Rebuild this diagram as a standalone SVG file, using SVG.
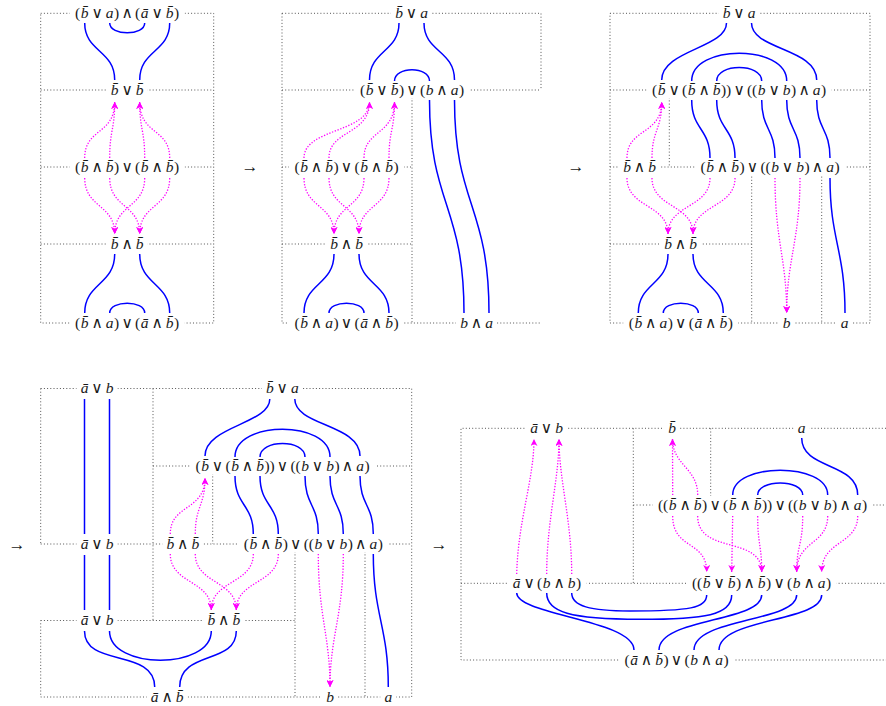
<svg xmlns="http://www.w3.org/2000/svg" width="886" height="706" viewBox="0 0 886 706">
<defs>
<style>
.fr{fill:none;stroke:#555;stroke-width:1;stroke-dasharray:1 2.2}
.bg{fill:#fff}
text{font-family:"Liberation Serif","DejaVu Serif",serif;font-size:15.5px;fill:#1a1a1a;text-anchor:middle}
.ar{font-size:17px}
.i{font-style:italic}
.bl{fill:none;stroke:#0000ff;stroke-width:1.5}
.mg{fill:none;stroke:#ff00ff;stroke-width:1.3;stroke-dasharray:1.3 1.6;marker-end:url(#ah)}
</style>
<marker id="ah" viewBox="0 0 10 10" refX="10" refY="5" markerWidth="7" markerHeight="7" orient="auto" markerUnits="userSpaceOnUse"><path d="M0,0 L10,5 L0,10 L3,5 z" fill="#ff00ff"/></marker>
</defs>
<rect width="886" height="706" fill="#fff"/>

<g id="frames">
<rect class="fr" x="40.7" y="13.3" width="173" height="309.7"/>
<path class="fr" d="M40.7,90H213.7 M40.7,167H213.7 M40.7,244H213.7"/>
<path class="fr" d="M282,13.3H541V90 M282,90H541 M282,13.3V323H541 M282,167H412 M282,244H412 M412,94V323"/>
<rect class="fr" x="610" y="13.3" width="260" height="309.7"/>
<path class="fr" d="M610,90H870 M669.3,94V167 M610,167H870 M751.7,167V323 M821.7,167V323 M610,244H751.7"/>
<path class="fr" d="M40.7,388.5H411.7V697H40.7V620.5 M40.7,388.5V544 M153,388.5V620.5 M153,466H411.7 M212.7,470V544 M40.7,544H411.7 M295,548V697 M365,548V697 M40.7,620.5H295"/>
<path class="fr" d="M886,428.3H461V660H886 M633.3,428.3V583.3 M710.7,428.3V496 M633.3,505H886 M461,583.3H886"/>
</g>

<g id="steps">
<text class="ar" x="250" y="172">→</text>
<text class="ar" x="576" y="172">→</text>
<text class="ar" x="17" y="549.5">→</text>
<text class="ar" x="439" y="549.5">→</text>
</g>

<!-- Panel 1 -->
<g id="p1-n1"><rect class="bg" x="69.7" y="4.3" width="115" height="17"/><text y="18"><tspan x="77.7">(</tspan><tspan x="84.7" class="i">b&#x304;</tspan><tspan x="97.2"> ∨ </tspan><tspan x="109.7" class="i">a</tspan><tspan x="116.7">)</tspan><tspan x="127.2"> ∧ </tspan><tspan x="137.7">(</tspan><tspan x="144.7" class="i">ā</tspan><tspan x="157.2"> ∨ </tspan><tspan x="169.7" class="i">b&#x304;</tspan><tspan x="176.7">)</tspan></text></g>
<g id="p1-n2"><rect class="bg" x="106.7" y="81" width="41" height="17"/><text y="94.7"><tspan x="114.7" class="i">b&#x304;</tspan><tspan x="127.2"> ∨ </tspan><tspan x="139.7" class="i">b&#x304;</tspan></text></g>
<g id="p1-n3"><rect class="bg" x="69.7" y="158" width="115" height="17"/><text y="171.7"><tspan x="77.7">(</tspan><tspan x="84.7" class="i">b&#x304;</tspan><tspan x="97.2"> ∧ </tspan><tspan x="109.7" class="i">b&#x304;</tspan><tspan x="116.7">)</tspan><tspan x="127.2"> ∨ </tspan><tspan x="137.7">(</tspan><tspan x="144.7" class="i">b&#x304;</tspan><tspan x="157.2"> ∧ </tspan><tspan x="169.7" class="i">b&#x304;</tspan><tspan x="176.7">)</tspan></text></g>
<g id="p1-n4"><rect class="bg" x="106.7" y="235" width="41" height="17"/><text y="248.7"><tspan x="114.7" class="i">b&#x304;</tspan><tspan x="127.2"> ∧ </tspan><tspan x="139.7" class="i">b&#x304;</tspan></text></g>
<g id="p1-n5"><rect class="bg" x="69.7" y="314" width="115" height="17"/><text y="327.7"><tspan x="77.7">(</tspan><tspan x="84.7" class="i">b&#x304;</tspan><tspan x="97.2"> ∧ </tspan><tspan x="109.7" class="i">a</tspan><tspan x="116.7">)</tspan><tspan x="127.2"> ∨ </tspan><tspan x="137.7">(</tspan><tspan x="144.7" class="i">ā</tspan><tspan x="157.2"> ∧ </tspan><tspan x="169.7" class="i">b&#x304;</tspan><tspan x="176.7">)</tspan></text></g>

<!-- Panel 2 -->
<g id="p2-n1"><rect class="bg" x="391" y="4.3" width="41" height="17"/><text y="18"><tspan x="399" class="i">b&#x304;</tspan><tspan x="411.5"> ∨ </tspan><tspan x="424" class="i">a</tspan></text></g>
<g id="p2-n2"><rect class="bg" x="354.5" y="81" width="115" height="17"/><text y="94.7"><tspan x="362.5">(</tspan><tspan x="369.5" class="i">b&#x304;</tspan><tspan x="382"> ∨ </tspan><tspan x="394.5" class="i">b&#x304;</tspan><tspan x="401.5">)</tspan><tspan x="412"> ∨ </tspan><tspan x="422.5">(</tspan><tspan x="429.5" class="i">b</tspan><tspan x="442"> ∧ </tspan><tspan x="454.5" class="i">a</tspan><tspan x="461.5">)</tspan></text></g>
<g id="p2-n3"><rect class="bg" x="289" y="158" width="115" height="17"/><text y="171.7"><tspan x="297">(</tspan><tspan x="304" class="i">b&#x304;</tspan><tspan x="316.5"> ∧ </tspan><tspan x="329" class="i">b&#x304;</tspan><tspan x="336">)</tspan><tspan x="346.5"> ∨ </tspan><tspan x="357">(</tspan><tspan x="364" class="i">b&#x304;</tspan><tspan x="376.5"> ∧ </tspan><tspan x="389" class="i">b&#x304;</tspan><tspan x="396">)</tspan></text></g>
<g id="p2-n4"><rect class="bg" x="326" y="235" width="41" height="17"/><text y="248.7"><tspan x="334" class="i">b&#x304;</tspan><tspan x="346.5"> ∧ </tspan><tspan x="359" class="i">b&#x304;</tspan></text></g>
<g id="p2-n5"><rect class="bg" x="289" y="314" width="115" height="17"/><text y="327.7"><tspan x="297">(</tspan><tspan x="304" class="i">b&#x304;</tspan><tspan x="316.5"> ∧ </tspan><tspan x="329" class="i">a</tspan><tspan x="336">)</tspan><tspan x="346.5"> ∨ </tspan><tspan x="357">(</tspan><tspan x="364" class="i">ā</tspan><tspan x="376.5"> ∧ </tspan><tspan x="389" class="i">b&#x304;</tspan><tspan x="396">)</tspan></text></g>
<g id="p2-n6"><rect class="bg" x="456" y="314" width="41" height="17"/><text y="327.7"><tspan x="464" class="i">b</tspan><tspan x="476.5"> ∧ </tspan><tspan x="489" class="i">a</tspan></text></g>

<!-- Panel 3 -->
<g id="p3-n1"><rect class="bg" x="718.5" y="4.3" width="41" height="17"/><text y="18"><tspan x="726.5" class="i">b&#x304;</tspan><tspan x="739"> ∨ </tspan><tspan x="751.5" class="i">a</tspan></text></g>
<g id="p3-n2"><rect class="bg" x="646.7" y="81" width="185" height="17"/><text y="94.7"><tspan x="654.7">(</tspan><tspan x="661.7" class="i">b&#x304;</tspan><tspan x="674.2"> ∨ </tspan><tspan x="684.7">(</tspan><tspan x="691.7" class="i">b&#x304;</tspan><tspan x="704.2"> ∧ </tspan><tspan x="716.7" class="i">b&#x304;</tspan><tspan x="723.7">)</tspan><tspan x="728.7">)</tspan><tspan x="739.2"> ∨ </tspan><tspan x="749.7">(</tspan><tspan x="754.7">(</tspan><tspan x="761.7" class="i">b</tspan><tspan x="774.2"> ∨ </tspan><tspan x="786.7" class="i">b</tspan><tspan x="793.7">)</tspan><tspan x="804.2"> ∧ </tspan><tspan x="816.7" class="i">a</tspan><tspan x="823.7">)</tspan></text></g>
<g id="p3-n3"><rect class="bg" x="619" y="158" width="41" height="17"/><text y="171.7"><tspan x="627" class="i">b&#x304;</tspan><tspan x="639.5"> ∧ </tspan><tspan x="652" class="i">b&#x304;</tspan></text></g>
<g id="p3-n4"><rect class="bg" x="695" y="158" width="150" height="17"/><text y="171.7"><tspan x="703">(</tspan><tspan x="710" class="i">b&#x304;</tspan><tspan x="722.5"> ∧ </tspan><tspan x="735" class="i">b&#x304;</tspan><tspan x="742">)</tspan><tspan x="752.5"> ∨ </tspan><tspan x="763">(</tspan><tspan x="768">(</tspan><tspan x="775" class="i">b</tspan><tspan x="787.5"> ∨ </tspan><tspan x="800" class="i">b</tspan><tspan x="807">)</tspan><tspan x="817.5"> ∧ </tspan><tspan x="830" class="i">a</tspan><tspan x="837">)</tspan></text></g>
<g id="p3-n5"><rect class="bg" x="660" y="235" width="41" height="17"/><text y="248.7"><tspan x="668" class="i">b&#x304;</tspan><tspan x="680.5"> ∧ </tspan><tspan x="693" class="i">b&#x304;</tspan></text></g>
<g id="p3-n6"><rect class="bg" x="623.3" y="314" width="115" height="17"/><text y="327.7"><tspan x="631.3">(</tspan><tspan x="638.3" class="i">b&#x304;</tspan><tspan x="650.8"> ∧ </tspan><tspan x="663.3" class="i">a</tspan><tspan x="670.3">)</tspan><tspan x="680.8"> ∨ </tspan><tspan x="691.3">(</tspan><tspan x="698.3" class="i">ā</tspan><tspan x="710.8"> ∧ </tspan><tspan x="723.3" class="i">b&#x304;</tspan><tspan x="730.3">)</tspan></text></g>
<g id="p3-n7"><rect class="bg" x="778.7" y="314" width="16" height="17"/><text y="327.7"><tspan x="786.7" class="i">b</tspan></text></g>
<g id="p3-n8"><rect class="bg" x="836.5" y="314" width="16" height="17"/><text y="327.7"><tspan x="844.5" class="i">a</tspan></text></g>

<!-- Panel 4 -->
<g id="p4-n1"><rect class="bg" x="76.5" y="379.5" width="41" height="17"/><text y="393.2"><tspan x="84.5" class="i">ā</tspan><tspan x="97"> ∨ </tspan><tspan x="109.5" class="i">b</tspan></text></g>
<g id="p4-n2"><rect class="bg" x="261.8" y="379.5" width="41" height="17"/><text y="393.2"><tspan x="269.8" class="i">b&#x304;</tspan><tspan x="282.3"> ∨ </tspan><tspan x="294.8" class="i">a</tspan></text></g>
<g id="p4-n3"><rect class="bg" x="190" y="457" width="185" height="17"/><text y="470.7"><tspan x="198">(</tspan><tspan x="205" class="i">b&#x304;</tspan><tspan x="217.5"> ∨ </tspan><tspan x="228">(</tspan><tspan x="235" class="i">b&#x304;</tspan><tspan x="247.5"> ∧ </tspan><tspan x="260" class="i">b&#x304;</tspan><tspan x="267">)</tspan><tspan x="272">)</tspan><tspan x="282.5"> ∨ </tspan><tspan x="293">(</tspan><tspan x="298">(</tspan><tspan x="305" class="i">b</tspan><tspan x="317.5"> ∨ </tspan><tspan x="330" class="i">b</tspan><tspan x="337">)</tspan><tspan x="347.5"> ∧ </tspan><tspan x="360" class="i">a</tspan><tspan x="367">)</tspan></text></g>
<g id="p4-n4"><rect class="bg" x="76.5" y="535" width="41" height="17"/><text y="548.7"><tspan x="84.5" class="i">ā</tspan><tspan x="97"> ∨ </tspan><tspan x="109.5" class="i">b</tspan></text></g>
<g id="p4-n5"><rect class="bg" x="162.3" y="535" width="41" height="17"/><text y="548.7"><tspan x="170.3" class="i">b&#x304;</tspan><tspan x="182.8"> ∧ </tspan><tspan x="195.3" class="i">b&#x304;</tspan></text></g>
<g id="p4-n6"><rect class="bg" x="238.3" y="535" width="150" height="17"/><text y="548.7"><tspan x="246.3">(</tspan><tspan x="253.3" class="i">b&#x304;</tspan><tspan x="265.8"> ∧ </tspan><tspan x="278.3" class="i">b&#x304;</tspan><tspan x="285.3">)</tspan><tspan x="295.8"> ∨ </tspan><tspan x="306.3">(</tspan><tspan x="311.3">(</tspan><tspan x="318.3" class="i">b</tspan><tspan x="330.8"> ∨ </tspan><tspan x="343.3" class="i">b</tspan><tspan x="350.3">)</tspan><tspan x="360.8"> ∧ </tspan><tspan x="373.3" class="i">a</tspan><tspan x="380.3">)</tspan></text></g>
<g id="p4-n7"><rect class="bg" x="76.5" y="611.5" width="41" height="17"/><text y="625.2"><tspan x="84.5" class="i">ā</tspan><tspan x="97"> ∨ </tspan><tspan x="109.5" class="i">b</tspan></text></g>
<g id="p4-n8"><rect class="bg" x="203.3" y="611.5" width="41" height="17"/><text y="625.2"><tspan x="211.3" class="i">b&#x304;</tspan><tspan x="223.8"> ∧ </tspan><tspan x="236.3" class="i">b&#x304;</tspan></text></g>
<g id="p4-n9"><rect class="bg" x="146.7" y="688" width="41" height="17"/><text y="701.7"><tspan x="154.7" class="i">ā</tspan><tspan x="167.2"> ∧ </tspan><tspan x="179.7" class="i">b&#x304;</tspan></text></g>
<g id="p4-n10"><rect class="bg" x="322" y="688" width="16" height="17"/><text y="701.7"><tspan x="330" class="i">b</tspan></text></g>
<g id="p4-n11"><rect class="bg" x="380.3" y="688" width="16" height="17"/><text y="701.7"><tspan x="388.3" class="i">a</tspan></text></g>

<!-- Panel 5 -->
<g id="p5-n1"><rect class="bg" x="526" y="419.3" width="41" height="17"/><text y="433"><tspan x="534" class="i">ā</tspan><tspan x="546.5"> ∨ </tspan><tspan x="559" class="i">b</tspan></text></g>
<g id="p5-n2"><rect class="bg" x="664" y="419.3" width="16" height="17"/><text y="433"><tspan x="672" class="i">b&#x304;</tspan></text></g>
<g id="p5-n3"><rect class="bg" x="793.7" y="419.3" width="16" height="17"/><text y="433"><tspan x="801.7" class="i">a</tspan></text></g>
<g id="p5-n4"><rect class="bg" x="652.7" y="496" width="220" height="17"/><text y="509.7"><tspan x="660.7">(</tspan><tspan x="665.7">(</tspan><tspan x="672.7" class="i">b&#x304;</tspan><tspan x="685.2"> ∧ </tspan><tspan x="697.7" class="i">b&#x304;</tspan><tspan x="704.7">)</tspan><tspan x="715.2"> ∨ </tspan><tspan x="725.7">(</tspan><tspan x="732.7" class="i">b&#x304;</tspan><tspan x="745.2"> ∧ </tspan><tspan x="757.7" class="i">b&#x304;</tspan><tspan x="764.7">)</tspan><tspan x="769.7">)</tspan><tspan x="780.2"> ∨ </tspan><tspan x="790.7">(</tspan><tspan x="795.7">(</tspan><tspan x="802.7" class="i">b</tspan><tspan x="815.2"> ∨ </tspan><tspan x="827.7" class="i">b</tspan><tspan x="834.7">)</tspan><tspan x="845.2"> ∧ </tspan><tspan x="857.7" class="i">a</tspan><tspan x="864.7">)</tspan></text></g>
<g id="p5-n5"><rect class="bg" x="508.7" y="574.3" width="78" height="17"/><text y="588"><tspan x="516.7" class="i">ā</tspan><tspan x="529.2"> ∨ </tspan><tspan x="539.7">(</tspan><tspan x="546.7" class="i">b</tspan><tspan x="559.2"> ∧ </tspan><tspan x="571.7" class="i">b</tspan><tspan x="578.7">)</tspan></text></g>
<g id="p5-n6"><rect class="bg" x="686.7" y="574.3" width="150" height="17"/><text y="588"><tspan x="694.7">(</tspan><tspan x="699.7">(</tspan><tspan x="706.7" class="i">b&#x304;</tspan><tspan x="719.2"> ∨ </tspan><tspan x="731.7" class="i">b&#x304;</tspan><tspan x="738.7">)</tspan><tspan x="749.2"> ∧ </tspan><tspan x="761.7" class="i">b&#x304;</tspan><tspan x="768.7">)</tspan><tspan x="779.2"> ∨ </tspan><tspan x="789.7">(</tspan><tspan x="796.7" class="i">b</tspan><tspan x="809.2"> ∧ </tspan><tspan x="821.7" class="i">a</tspan><tspan x="828.7">)</tspan></text></g>
<g id="p5-n7"><rect class="bg" x="619" y="651" width="115" height="17"/><text y="664.7"><tspan x="627">(</tspan><tspan x="634" class="i">ā</tspan><tspan x="646.5"> ∧ </tspan><tspan x="659" class="i">b&#x304;</tspan><tspan x="666">)</tspan><tspan x="676.5"> ∨ </tspan><tspan x="687">(</tspan><tspan x="694" class="i">b</tspan><tspan x="706.5"> ∧ </tspan><tspan x="719" class="i">a</tspan><tspan x="726">)</tspan></text></g>

<g id="connectors">
<!-- P1 -->
<path class="bl" d="M84.7,23 C84.7,52 114.7,50 114.7,80 M169.7,23 C169.7,52 139.7,50 139.7,80 M109.7,23 C109.7,36 144.7,36 144.7,23 M114.7,254 C114.7,285 84.7,283 84.7,313 M139.7,254 C139.7,285 169.7,283 169.7,313 M109.7,313 C109.7,300 144.7,300 144.7,313"/>
<path class="mg" d="M84.7,158 C84.7,128 114.7,135 114.7,102"/>
<path class="mg" d="M109.7,158 C109.7,130 114.7,130 114.7,102"/>
<path class="mg" d="M144.7,158 C144.7,130 139.7,130 139.7,102"/>
<path class="mg" d="M169.7,158 C169.7,128 139.7,135 139.7,102"/>
<path class="mg" d="M84.7,178 C84.7,208 114.7,204 114.7,234"/>
<path class="mg" d="M109.7,178 C109.7,208 139.7,204 139.7,234"/>
<path class="mg" d="M144.7,178 C144.7,208 114.7,204 114.7,234"/>
<path class="mg" d="M169.7,178 C169.7,208 139.7,204 139.7,234"/>
<!-- P2 -->
<path class="bl" d="M399,23 C399,52 369.5,50 369.5,80 M424,23 C424,52 454.5,50 454.5,80 M394.5,81 C394.5,66 429.5,66 429.5,81 M429.5,100 C429.5,205 464,205 464,313 M454.5,100 C454.5,205 489,205 489,313 M334,254 C334,285 304,283 304,313 M359,254 C359,285 389,283 389,313 M329,313 C329,300 364,300 364,313"/>
<path class="mg" d="M304,158 C304,128 369.5,133 369.5,102"/>
<path class="mg" d="M329,158 C329,130 369.5,135 369.5,102"/>
<path class="mg" d="M364,158 C364,130 394.5,135 394.5,102"/>
<path class="mg" d="M389,158 C389,130 394.5,130 394.5,102"/>
<path class="mg" d="M304,178 C304,208 334,204 334,234"/>
<path class="mg" d="M329,178 C329,208 359,204 359,234"/>
<path class="mg" d="M364,178 C364,208 334,204 334,234"/>
<path class="mg" d="M389,178 C389,208 359,204 359,234"/>
<!-- P3 -->
<path class="bl" d="M726.5,23 C726.5,48 661.7,50 661.7,80 M751.5,23 C751.5,50 816.7,48 816.7,80 M691.7,81 C691.7,44 786.7,44 786.7,81 M716.7,81 C716.7,63 761.7,63 761.7,81 M691.7,100 C691.7,130 710,128 710,158 M716.7,100 C716.7,130 735,128 735,158 M761.7,100 C761.7,130 775,128 775,158 M786.7,100 C786.7,130 800,128 800,158 M816.7,100 C816.7,130 830,128 830,158 M830,178 C830,240 845,250 845,313 M668,254 C668,285 638.3,283 638.3,313 M693,254 C693,285 723.3,283 723.3,313 M663.3,313 C663.3,300 698.3,300 698.3,313"/>
<path class="mg" d="M627,158 C627,128 661.7,135 661.7,102"/>
<path class="mg" d="M652,158 C652,130 661.7,130 661.7,102"/>
<path class="mg" d="M627,178 C627,208 668,204 668,234"/>
<path class="mg" d="M652,178 C652,208 693,204 693,234"/>
<path class="mg" d="M710,178 C710,208 668,204 668,234"/>
<path class="mg" d="M735,178 C735,208 693,204 693,234"/>
<path class="mg" d="M775,178 C775,240 786.7,260 786.7,313"/>
<path class="mg" d="M800,178 C800,240 786.7,260 786.7,313"/>
<!-- P4 -->
<path class="bl" d="M269.8,399 C269.8,424 205,426 205,456 M294.8,399 C294.8,426 360,424 360,456 M235,457 C235,420 330,420 330,457 M260,457 C260,439 305,439 305,457 M235,476 C235,506 253.3,504 253.3,534 M260,476 C260,506 278.3,504 278.3,534 M305,476 C305,506 318.3,504 318.3,534 M330,476 C330,506 343.3,504 343.3,534 M360,476 C360,506 373.3,504 373.3,534 M373.3,554 C373.3,616 388.3,626 388.3,687"/>
<path class="bl" d="M84.5,399 V534 M109.5,399 V534 M84.5,555 V610 M109.5,555 V610 M84.5,631 C84.5,668 154.7,648 154.7,687 M109.5,631 C109.5,670 211.3,670 211.3,631 M236.3,631 C236.3,665 179.7,650 179.7,687"/>
<path class="mg" d="M170.3,534 C170.3,504 205,511 205,478"/>
<path class="mg" d="M195.3,534 C195.3,506 205,506 205,478"/>
<path class="mg" d="M170.3,554 C170.3,584 211.3,580 211.3,610"/>
<path class="mg" d="M195.3,554 C195.3,584 236.3,580 236.3,610"/>
<path class="mg" d="M253.3,554 C253.3,584 211.3,580 211.3,610"/>
<path class="mg" d="M278.3,554 C278.3,584 236.3,580 236.3,610"/>
<path class="mg" d="M318.3,554 C318.3,616 330,636 330,687"/>
<path class="mg" d="M343.3,554 C343.3,616 330,636 330,687"/>
<!-- P5 -->
<path class="bl" d="M801.7,438 C801.7,470 857.7,462 857.7,495 M732.7,495 C732.7,462 827.7,462 827.7,495 M757.7,495 C757.7,479 802.7,479 802.7,495 M516.7,593 C516.7,615 634,620 634,650 M546.7,593 C546.7,612 570,619.3 640,619.3 C705,619.3 731.7,615 731.7,595 M571.7,593 C571.7,606 590,611 630,611 C690,611 706.7,608 706.7,595 M761.7,595 C761.7,622 659,618 659,650 M796.7,595 C796.7,622 694,618 694,650 M821.7,595 C821.7,622 719,618 719,650"/>
<path class="mg" d="M516.7,574 C518,520 534,480 534,439"/>
<path class="mg" d="M546.7,574 C546.7,520 559,480 559,439"/>
<path class="mg" d="M571.7,574 C571.7,520 559,480 559,439"/>
<path class="mg" d="M672.7,495 L672.5,439"/>
<path class="mg" d="M697.7,495 C697.7,468 672.5,465 672.5,439"/>
<path class="mg" d="M672.7,516 C672.7,550 706.7,540 706.7,572"/>
<path class="mg" d="M697.7,516 C697.7,555 761.7,535 761.7,572"/>
<path class="mg" d="M732.7,516 L731.7,572"/>
<path class="mg" d="M757.7,516 C757.7,545 761.7,545 761.7,572"/>
<path class="mg" d="M802.7,516 C802.7,545 796.7,545 796.7,572"/>
<path class="mg" d="M827.7,516 C827.7,545 796.7,540 796.7,572"/>
<path class="mg" d="M857.7,516 C857.7,545 821.7,540 821.7,572"/>
</g>
</svg>
